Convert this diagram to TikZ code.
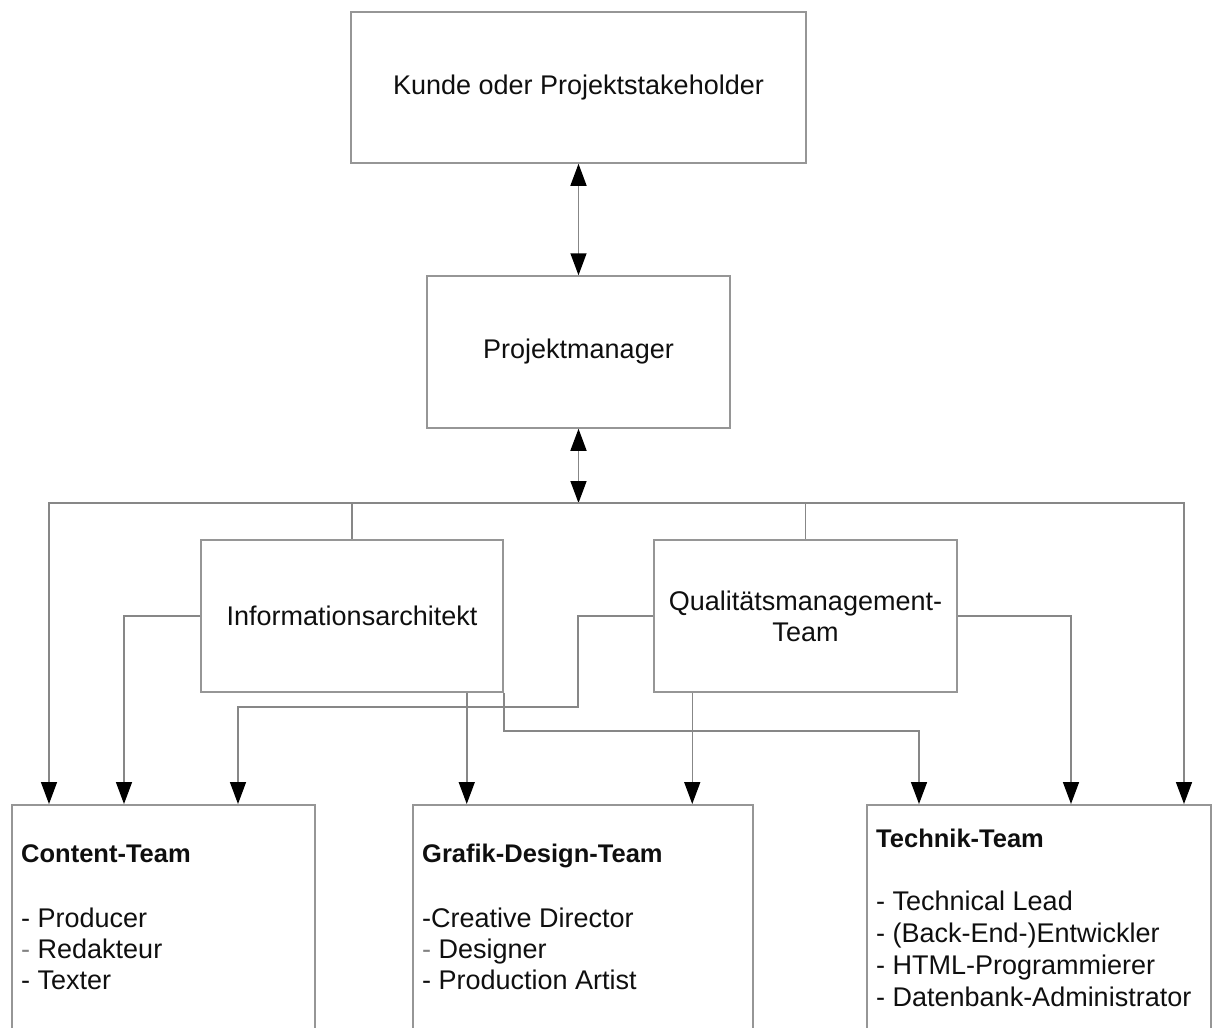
\documentclass[tikz,border=0pt]{standalone}
\usepackage{fontspec}
\setmainfont{Liberation Sans}
\usetikzlibrary{arrows.meta}

\definecolor{linegray}{RGB}{135,135,135}
\definecolor{boxgray}{RGB}{150,150,150}
\definecolor{textcol}{RGB}{15,15,15}
\definecolor{dashgray}{RGB}{130,130,130}

\newcommand{\regsize}{\fontsize{27}{31}\selectfont}
\newcommand{\titlesize}{\fontsize{25.5}{31}\selectfont\bfseries}

\tikzset{
  box/.style={draw=boxgray, line width=1.5pt, rectangle, inner sep=0pt,
    font=\regsize, text=textcol, align=center},
  conn/.style={draw=linegray, line width=1.5pt},
  tip/.tip={Triangle[length=22pt, width=16pt, color=black]},
  arr/.style={conn, -tip},
  darr/.style={conn, tip-tip},
  teamtitle/.style={anchor=base west, inner sep=0pt, font=\titlesize, text=textcol},
  member/.style={anchor=base west, inner sep=0pt, font=\regsize, text=textcol},
}

\begin{document}
\begin{tikzpicture}[x=1pt, y=-1pt]
\path[use as bounding box] (0,0) rectangle (1213,1028);
\clip (0,0) rectangle (1213,1028);

% upper boxes
\node[box, minimum width=455pt, minimum height=151pt] (kunde) at (578.5,87.5) {Kunde oder Projektstakeholder};
\node[box, minimum width=303pt, minimum height=152pt] (pm) at (578.5,352) {Projektmanager};
\node[box, minimum width=302pt, minimum height=152pt] (ia) at (352,616) {Informationsarchitekt};
\node[box, minimum width=303pt, minimum height=152pt] (qm) at (805.5,616) {Qualitätsmanagement-\\Team};

% team boxes (running past the lower edge)
\node[box, anchor=north west, minimum width=303pt, minimum height=260pt] (content) at (11,804) {};
\node[box, anchor=north west, minimum width=340pt, minimum height=260pt] (grafik) at (412,804) {};
\node[box, anchor=north west, minimum width=344pt, minimum height=260pt] (technik) at (866,804) {};

% team contents
\node[teamtitle] (ct) at (21,862) {Content-Team};
\node[member] (c1) at (21,927) {- Producer};
\node[member] (c2) at (21,958) {{\color{dashgray}-} Redakteur};
\node[member] (c3) at (21,989) {- Texter};

\node[teamtitle] (gt) at (422,862) {Grafik-Design-Team};
\node[member] (g1) at (422,927) {-Creative Director};
\node[member] (g2) at (422,958) {{\color{dashgray}-} Designer};
\node[member] (g3) at (422,989) {- Production Artist};

\node[teamtitle] (tt) at (876,847) {Technik-Team};
\node[member] (t1) at (876,910) {- Technical Lead};
\node[member] (t2) at (876,942) {- (Back-End-)Entwickler};
\node[member] (t3) at (876,974) {- HTML-Programmierer};
\node[member] (t4) at (876,1006) {- Datenbank-Administrator};

% distribution line below the project manager
\coordinate (busy) at (0,503);
\coordinate (bus) at (pm.south |- busy);

\draw[darr] (kunde.south) -- (pm.north);
\draw[darr] (pm.south) -- (bus);

\draw[arr] (bus) -| ([xshift=38pt]content.north west);
\draw[arr] (bus) -| ([xshift=318pt]technik.north west);
\draw[conn] (bus) -| (ia.north);
\draw[conn] (bus) -| (qm.north);

% Informationsarchitekt
\draw[arr] (ia.west) -| ([xshift=113pt]content.north west);
\draw[arr] ([xshift=-37pt]ia.south east) -- ([xshift=-37pt]ia.south east |- grafik.north);
\draw[arr] (ia.south east) -- ++(0,38) -| ([xshift=53pt]technik.north west);

% Qualitaetsmanagement
\coordinate (qmbend) at (578,707);
\draw[arr] (qm.west) -| (qmbend) -| ([xshift=227pt]content.north west);
\draw[arr] ([xshift=39pt]qm.south west) -- ([xshift=39pt]qm.south west |- grafik.north);
\draw[arr] (qm.east) -| ([xshift=205pt]technik.north west);
\end{tikzpicture}
\end{document}
